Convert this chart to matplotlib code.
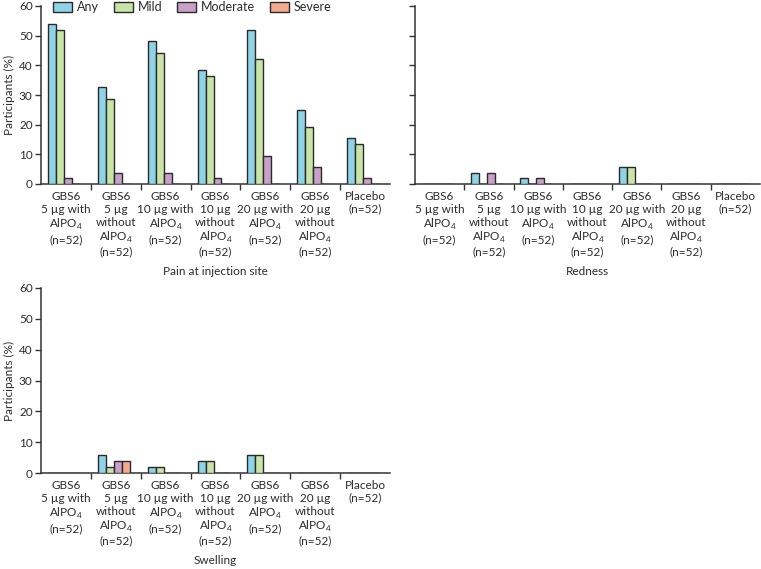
import numpy as np
import matplotlib
matplotlib.use("Agg")
import matplotlib.pyplot as plt
from matplotlib.patches import Patch

plt.rcParams['font.family'] = ['Lato', 'DejaVu Sans']
plt.rcParams['mathtext.fontset'] = 'custom'
plt.rcParams['mathtext.rm'] = 'Lato'
plt.rcParams['font.size'] = 8.5
plt.rcParams['text.color'] = '#2b2b2b'
plt.rcParams['xtick.color'] = '#2b2b2b'
plt.rcParams['ytick.color'] = '#2b2b2b'
plt.rcParams['axes.labelcolor'] = '#2b2b2b'

# group labels
groups = [
    "GBS6\n5 µg with\nAlPO$_4$\n(n=52)",
    "GBS6\n5 µg\nwithout\nAlPO$_4$\n(n=52)",
    "GBS6\n10 µg with\nAlPO$_4$\n(n=52)",
    "GBS6\n10 µg\nwithout\nAlPO$_4$\n(n=52)",
    "GBS6\n20 µg with\nAlPO$_4$\n(n=52)",
    "GBS6\n20 µg\nwithout\nAlPO$_4$\n(n=52)",
    "Placebo\n(n=52)",
]
severity = ['Any', 'Mild', 'Moderate', 'Severe']
colors = ['#8fd3e6', '#c9e4a7', '#c9a0c9', '#f5a98f']

# percentages per group: Any, Mild, Moderate, Severe
pain_any = [53.8, 32.7, 48.1, 38.5, 51.9, 25.0, 15.4]
pain_mild = [51.9, 28.8, 44.2, 36.5, 42.3, 19.2, 13.5]
pain_mod = [1.9, 3.8, 3.8, 1.9, 9.6, 5.8, 1.9]
pain_sev = [0, 0, 0, 0, 0, 0, 0]

red_any = [0, 3.8, 1.9, 0, 5.8, 0, 0]
red_mild = [0, 0, 0, 0, 5.8, 0, 0]
red_mod = [0, 3.8, 1.9, 0, 0, 0, 0]
red_sev = [0, 0, 0, 0, 0, 0, 0]

swe_any = [0, 5.8, 1.9, 3.8, 5.8, 0, 0]
swe_mild = [0, 1.9, 1.9, 3.8, 5.8, 0, 0]
swe_mod = [0, 3.8, 0, 0, 0, 0, 0]
swe_sev = [0, 3.8, 0, 0, 0, 0, 0]

W, H = 761, 569
fig = plt.figure(figsize=(W / 100, H / 100), dpi=100)


def make_ax(x0, x1, ytop, ybot):
    return fig.add_axes([x0 / W, 1 - ybot / H, (x1 - x0) / W, (ybot - ytop) / H])


def draw(ax, series, title, ylabels=True):
    x = np.arange(len(groups))
    bw = 0.16
    for k, vals in enumerate(series):
        ax.bar(x - 0.04 + (k - 1.5) * bw, vals, width=bw, color=colors[k],
               edgecolor='#2a2a2a', linewidth=1.0, zorder=3)
    ax.set_xlim(-0.5, len(groups) - 0.5)
    ax.set_ylim(0, 60)
    ax.set_yticks(range(0, 61, 10))
    ax.set_xticks(x)
    ax.set_xticklabels(groups, linespacing=1.2)
    ax.set_xticks(np.arange(0.5, len(groups) - 0.5, 1), minor=True)
    ax.tick_params(axis='x', which='major', length=0, pad=5)
    ax.tick_params(axis='x', which='minor', length=4, width=1, color='#333333')
    ax.tick_params(axis='y', length=4, width=1, color='#333333', pad=2)
    for s in ['top', 'right']:
        ax.spines[s].set_visible(False)
    for s in ['left', 'bottom']:
        ax.spines[s].set_linewidth(1.1)
        ax.spines[s].set_color('#333333')
    ax.set_xlabel(title, labelpad=6)
    if ylabels:
        ax.set_ylabel('Participants (%)', labelpad=3)
    else:
        ax.set_yticklabels([])


ax1 = make_ax(41, 390, 6, 184)
draw(ax1, [pain_any, pain_mild, pain_mod, pain_sev], 'Pain at injection site')

ax2 = make_ax(415, 760, 6, 184)
draw(ax2, [red_any, red_mild, red_mod, red_sev], 'Redness', ylabels=False)

ax3 = make_ax(41, 390, 288, 473)
draw(ax3, [swe_any, swe_mild, swe_mod, swe_sev], 'Swelling')

handles = [Patch(facecolor=c, edgecolor='#2a2a2a', linewidth=1.0) for c in colors]
fig.legend(handles, severity, ncol=4, loc='upper left',
           bbox_to_anchor=(48 / W, 1 + 4 / H), frameon=False,
           handlelength=1.5, handleheight=0.9, handletextpad=0.4,
           columnspacing=1.2, fontsize=9, borderaxespad=0)

fig.savefig('out.png', dpi=100)
